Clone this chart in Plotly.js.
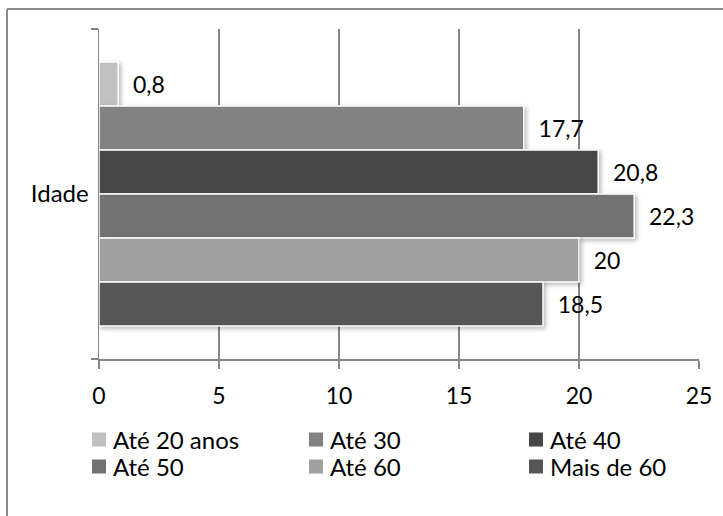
<!DOCTYPE html>
<html>
<head>
<meta charset="utf-8">
<script src="https://cdn.plot.ly/plotly-3.0.1.min.js"></script>
<style>
  html, body { margin: 0; padding: 0; background: #fff; }
  #chart { width: 723px; height: 516px; }
  .barlayer .point path { filter: drop-shadow(2px 2px 2px rgba(0,0,0,0.28)); }
</style>
</head>
<body>
<div id="chart"></div>
<script>
// Age groups and their percentages
const category = ["Idade"];
const groups = ["Até 20 anos", "Até 30", "Até 40", "Até 50", "Até 60", "Mais de 60"];
const values = [0.8, 17.7, 20.8, 22.3, 20, 18.5];
const colors = ["#c0c0c0", "#828282", "#474747", "#727272", "#a0a0a0", "#565656"];
const xTicks = [0, 5, 10, 15, 20, 25];

const FONT = "Lato, 'Open Sans', sans-serif";
const GRID = "#868686";

// each group gets its own legend so the legend grid (3 columns x 2 rows) can be placed freely
const legendIds = groups.map((g, i) => (i === 0 ? "legend" : "legend" + (i + 1)));

const traces = groups.map((name, i) => ({
  type: "bar",
  orientation: "h",
  name: name,
  legend: legendIds[i],
  y: category,
  x: [values[i]],
  marker: { color: colors[i], line: { color: "#ffffff", width: 1.5 } },
  text: [values[i]],
  texttemplate: "\u00a0\u00a0%{x}",
  textposition: "outside",
  textfont: { family: FONT, size: 23, color: "#000" },
  cliponaxis: false,
  hoverinfo: "x+name"
}));

// plot area: x 99..699, y 29..359
const L = 99, R = 24, T = 29, B = 157;
const W = 723, H = 516;
const pw = W - L - R, ph = H - T - B;
const px = v => (v - L) / pw;
const py = v => (H - B - v) / ph;

// legend grid: left edge of each column, centre of each row (pixels)
const colLeft = [73, 290, 510];
const rowMid = [440, 467];

const layout = {
  width: W,
  height: H,
  margin: { l: L, r: R, t: T, b: B, pad: 0 },
  paper_bgcolor: "#ffffff",
  plot_bgcolor: "#ffffff",
  separators: ",.",
  barmode: "group",
  bargap: 0.2,
  bargroupgap: 0,
  font: { family: FONT, size: 23, color: "#000" },
  showlegend: true,
  xaxis: {
    range: [0, 25],
    tickvals: xTicks,
    ticktext: xTicks.map(String),
    showgrid: true,
    gridcolor: GRID,
    gridwidth: 1.5,
    zeroline: false,
    showline: true,
    linecolor: GRID,
    linewidth: 1.5,
    ticks: "outside",
    ticklen: 8,
    tickwidth: 1.5,
    tickcolor: GRID,
    ticklabelstandoff: 8,
    tickfont: { family: FONT, size: 23, color: "#000" },
    fixedrange: true
  },
  yaxis: {
    type: "category",
    autorange: "reversed",
    showline: true,
    linecolor: GRID,
    linewidth: 1.5,
    ticks: "outside",
    tickson: "boundaries",
    ticklen: 7,
    tickwidth: 1.5,
    tickcolor: GRID,
    showgrid: false,
    ticklabelstandoff: 4,
    tickfont: { family: FONT, size: 24, color: "#000" },
    fixedrange: true
  },
  shapes: [
    { type: "line", xref: "paper", yref: "paper", x0: px(7), x1: px(7), y0: py(9), y1: py(520),
      line: { color: "#8c8c8c", width: 2 } },
    { type: "line", xref: "paper", yref: "paper", x0: px(7), x1: px(730), y0: py(9), y1: py(9),
      line: { color: "#8c8c8c", width: 2 } }
  ]
};

legendIds.forEach((id, i) => {
  layout[id] = {
    orientation: "h",
    x: px(colLeft[i % 3]),
    xanchor: "left",
    y: py(rowMid[Math.floor(i / 3)]),
    yanchor: "middle",
    font: { family: FONT, size: 24, color: "#000" },
    bgcolor: "rgba(0,0,0,0)"
  };
});

// legend swatches: plain 14px squares sitting a little closer to their labels
function styleLegends() {
  gd.querySelectorAll(".legendpoints path").forEach(p => {
    p.setAttribute("d", "M13,7H-1V-7H13Z");
    p.style.strokeWidth = "0";
  });
}

const gd = document.getElementById("chart");
Plotly.newPlot(gd, traces, layout, { displayModeBar: false, staticPlot: true }).then(() => {
  styleLegends();
  gd.on("plotly_afterplot", styleLegends);
});
</script>
</body>
</html>
